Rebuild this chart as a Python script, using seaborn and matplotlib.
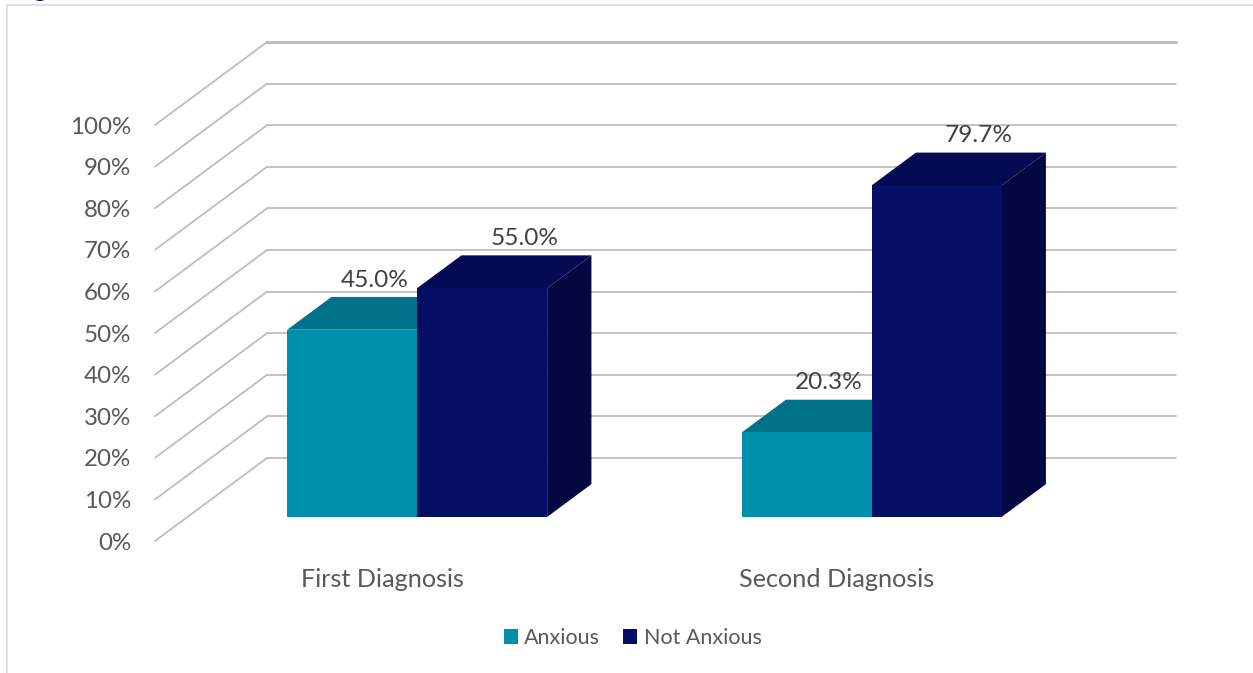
import matplotlib
matplotlib.use("Agg")
import matplotlib.pyplot as plt
from matplotlib.lines import Line2D
from matplotlib.patches import Polygon, Patch
import pandas as pd
import seaborn as sns

categories = ["First Diagnosis", "Second Diagnosis"]
series_names = ["Anxious", "Not Anxious"]
anxious = [45.0, 20.3]
not_anxious = [55.0, 79.7]
y_ticks = list(range(0, 101, 10))

front_colors = ["#0090AC", "#060F66"]
top_colors = ["#00738A", "#040B52"]
side_colors = ["#006478", "#030843"]
grid_color = "#BDBDBD"
text_color = "#595959"

W, H = 1253, 673
sns.set_theme(style="white")
plt.rcParams["font.family"] = ["Lato", "DejaVu Sans"]

fig = plt.figure(figsize=(W / 100, H / 100), dpi=100, facecolor="white")
ax = fig.add_axes([155 / W, 1 - 541 / H, 909 / W, 416 / H], facecolor="none")

table = pd.DataFrame({
    "category": categories * 2,
    "series": [series_names[0]] * 2 + [series_names[1]] * 2,
    "value": anxious + not_anxious,
})
sns.barplot(
    data=table, x="category", y="value", hue="series", hue_order=series_names,
    palette=front_colors, width=0.572, gap=0, saturation=1, legend=False,
    errorbar=None, ax=ax, linewidth=0,
)
ax.set_xlim(-0.5, 1.5)
ax.set_ylim(0, 100)

# Depth axis of the oblique projection, in data units per full wall depth
DEPTH_X = 112 / (909 / 2)
DEPTH_Y = 83 / 4.16
BAR_NEAR_X = 0.312
BAR_NEAR_Y = 0.29
BAR_SPAN = 0.395

# Side wall and back wall gridlines; the top rule of the back wall is heavier
for v in y_ticks:
    back = v + DEPTH_Y
    ax.plot([-0.5, -0.5 + DEPTH_X], [v, back], color=grid_color, lw=1.3,
            clip_on=False, zorder=0.5)
    ax.plot([-0.5 + DEPTH_X, 1.5 + DEPTH_X], [back, back], color=grid_color,
            lw=2.2 if v == 100 else 1.3, clip_on=False, zorder=0.5)

# Move each bar to its depth and add the top and side faces
bars = list(ax.patches)
for i, bar in enumerate(bars):
    s = i // 2
    z = 2 + s + (i % 2) * 3
    x0 = bar.get_x() + BAR_NEAR_X * DEPTH_X
    y0 = bar.get_y() + BAR_NEAR_Y * DEPTH_Y
    w, h = bar.get_width(), bar.get_height()
    bar.set_x(x0)
    bar.set_y(y0)
    bar.set_zorder(z + 0.2)
    bar.set_clip_on(False)
    dx, dy = BAR_SPAN * DEPTH_X, BAR_SPAN * DEPTH_Y
    ax.add_patch(Polygon(
        [(x0, y0 + h), (x0 + dx, y0 + h + dy), (x0 + w + dx, y0 + h + dy), (x0 + w, y0 + h)],
        facecolor=top_colors[s], edgecolor="none", zorder=z, clip_on=False))
    ax.add_patch(Polygon(
        [(x0 + w, y0), (x0 + w + dx, y0 + dy), (x0 + w + dx, y0 + h + dy), (x0 + w, y0 + h)],
        facecolor=side_colors[s], edgecolor="none", zorder=z, clip_on=False))
    # Value label sits over the top face
    shift = 0 if s == 0 else 20 * 0.72
    ax.annotate(f"{h:.1f}%", xy=(x0 + w / 2 + dx / 2, y0 + h + dy),
                xytext=(shift, 4.5), textcoords="offset points",
                ha="center", va="bottom", fontsize=17.6, color="#404040",
                zorder=20, annotation_clip=False)

sns.despine(ax=ax, left=True, bottom=True)
ax.set_xlabel("")
ax.set_ylabel("")
ax.set_yticks(y_ticks, [f"{v}%" for v in y_ticks])
ax.tick_params(axis="y", length=0, pad=17, labelsize=17.4, labelcolor=text_color)
ax.tick_params(axis="x", length=0, pad=19.4, labelsize=18.2, labelcolor=text_color)

legend_handles = [Patch(facecolor=c, edgecolor="none", label=n)
                  for c, n in zip(front_colors, series_names)]
fig.legend(handles=legend_handles, loc="center", bbox_to_anchor=(632.5 / W, 1 - 638 / H),
           ncol=2, frameon=False, fontsize=15.5, labelcolor=text_color,
           handlelength=0.65, handleheight=0.65, handletextpad=0.3, columnspacing=1.07)

# Page frame and clipped caption above the chart
fig.add_artist(Line2D([7 / W, 7 / W, 1], [0, 1 - 5 / H, 1 - 5 / H],
                      color="#D9D9D9", lw=1.1))
fig.text(13 / W, 1 + 3 / H, "Figure", fontsize=18, fontweight="bold", color="#0B1464",
         ha="left", va="baseline")

fig.savefig("out.png", dpi=100)
